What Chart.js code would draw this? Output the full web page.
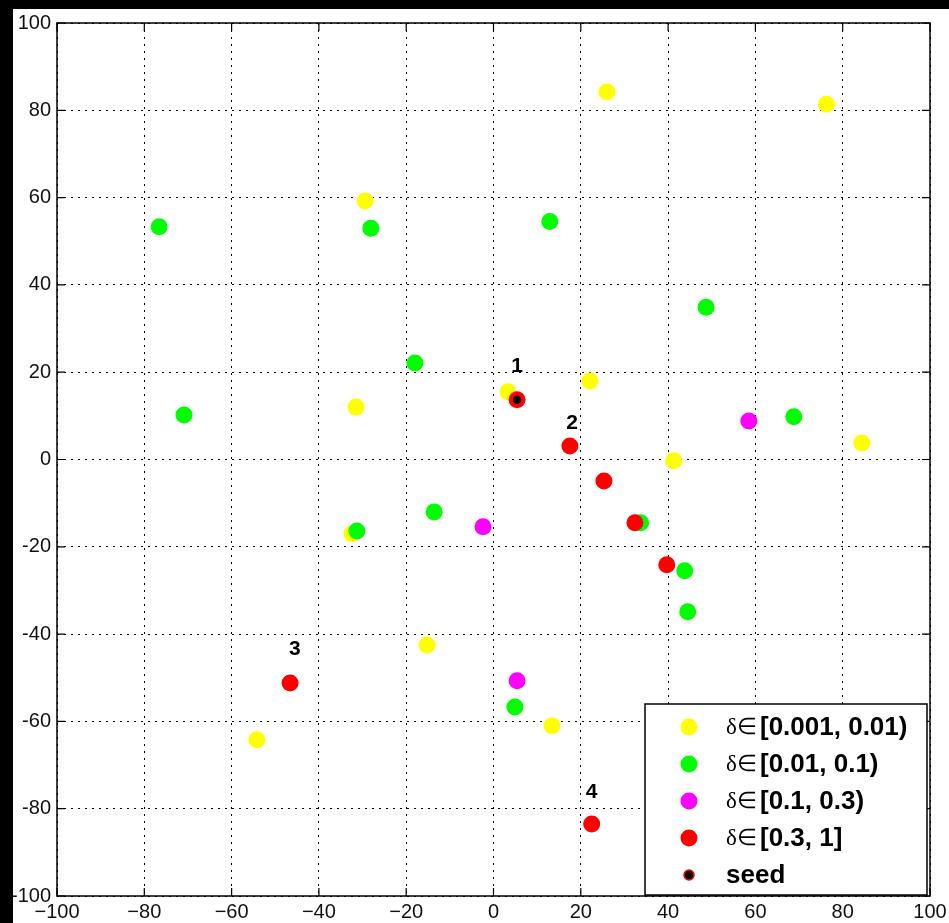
<!DOCTYPE html>
<html>
<head>
<meta charset="utf-8">
<script src="https://cdn.jsdelivr.net/npm/chart.js@4.4.1/dist/chart.umd.min.js"></script>
<style>
  html, body { margin: 0; padding: 0; background: #000; overflow: hidden; }
  #wrap { position: absolute; left: 13px; top: 9px; width: 936px; height: 914px; background: #fff; }
</style>
</head>
<body>
<div id="wrap"><canvas id="scatter" width="936" height="914"></canvas></div>
<script>
// points, grouped by delta range
const yellowPts = [
    {x: 26.0, y: 84.2}, {x: 76.3, y: 81.4}, {x: -29.4, y: 59.2}, {x: 22.1, y: 18.0},
    {x: 3.3, y: 15.5}, {x: -31.5, y: 12.0}, {x: 84.4, y: 3.8}, {x: 41.3, y: -0.3},
    {x: -32.4, y: -17.0}, {x: -15.2, y: -42.5}, {x: -54.2, y: -64.2}, {x: 13.4, y: -61.0}
];
const greenPts = [
    {x: -76.6, y: 53.3}, {x: -28.1, y: 53.0}, {x: 12.9, y: 54.5}, {x: 48.7, y: 34.9},
    {x: -18.0, y: 22.1}, {x: -70.9, y: 10.2}, {x: 68.8, y: 9.8}, {x: -13.6, y: -12.0},
    {x: -31.3, y: -16.4}, {x: 33.7, y: -14.5}, {x: 43.8, y: -25.5}, {x: 44.5, y: -34.9},
    {x: 4.9, y: -56.7}
];
const magentaPts = [
    {x: 58.5, y: 8.8}, {x: -2.4, y: -15.4}, {x: 5.4, y: -50.7}
];
const redPts = [
    {x: 5.4, y: 13.7}, {x: 17.5, y: 3.1}, {x: 25.3, y: -4.9}, {x: 32.4, y: -14.5},
    {x: 39.7, y: -24.1}, {x: -46.6, y: -51.2}, {x: 22.5, y: -83.5}
];
const seedPts = [{x: 5.4, y: 13.7}];

const seriesLabels = ['δ∈ [0.001, 0.01)', 'δ∈ [0.01, 0.1)', 'δ∈ [0.1, 0.3)', 'δ∈ [0.3, 1]', 'seed'];

// numbered markers next to some of the red points
const pointTags = [
    {text: '1', x: 5.4, y: 21.4},
    {text: '2', x: 18.0, y: 8.4},
    {text: '3', x: -45.5, y: -43.4},
    {text: '4', x: 22.5, y: -76.2}
];

const xTickLabels = ['−100', '−80', '−60', '−40', '−20', '0', '20', '40', '60', '80', '100'];
const yTickLabels = ['-100', '-80', '-60', '-40', '-20', '0', '20', '40', '60', '80', '100'];

const sansFont = '"Liberation Sans", Arial, sans-serif';

// keep the plot box where the layout padding puts it
function noLabelPadding(scale) {
    scale.paddingTop = 0;
    scale.paddingBottom = 0;
    scale.paddingLeft = 0;
    scale.paddingRight = 0;
}

// frame, inward ticks, tags and the boxed legend, drawn after the points
const overlay = {
    id: 'overlay',
    afterDraw(chart) {
        const c = chart.ctx;
        const area = chart.chartArea;
        const xs = chart.scales.x, ys = chart.scales.y;
        c.save();

        c.strokeStyle = '#000';
        c.lineWidth = 1.5;
        c.strokeRect(area.left, area.top, area.right - area.left, area.bottom - area.top);

        const tl = 8;
        c.lineWidth = 1.2;
        c.beginPath();
        xs.ticks.forEach(t => {
            const px = xs.getPixelForValue(t.value);
            c.moveTo(px, area.bottom); c.lineTo(px, area.bottom - tl);
            c.moveTo(px, area.top); c.lineTo(px, area.top + tl);
        });
        ys.ticks.forEach(t => {
            const py = ys.getPixelForValue(t.value);
            c.moveTo(area.left, py); c.lineTo(area.left + tl, py);
            c.moveTo(area.right, py); c.lineTo(area.right - tl, py);
        });
        c.stroke();

        c.fillStyle = '#000';
        c.font = 'bold 21px ' + sansFont;
        c.textAlign = 'center';
        c.textBaseline = 'middle';
        pointTags.forEach(tag => {
            c.fillText(tag.text, xs.getPixelForValue(tag.x), ys.getPixelForValue(tag.y));
        });

        // legend box in the lower right corner
        const bw = 282, bh = 191;
        const bx = area.right - 3 - bw, by = area.bottom - 1 - bh;
        c.fillStyle = '#fff';
        c.fillRect(bx, by, bw, bh);
        c.strokeStyle = '#000';
        c.lineWidth = 1.5;
        c.strokeRect(bx, by, bw, bh);

        chart.data.datasets.forEach((ds, i) => {
            const ry = by + 23 + i * 37;
            const mx = bx + 44;
            c.beginPath();
            c.arc(mx, ry, ds.pointRadius, 0, Math.PI * 2);
            c.fillStyle = ds.backgroundColor;
            c.fill();
            if (ds.pointBorderWidth) {
                c.lineWidth = ds.pointBorderWidth;
                c.strokeStyle = ds.borderColor;
                c.stroke();
            }
            c.fillStyle = '#000';
            c.textAlign = 'left';
            c.textBaseline = 'middle';
            const sp = ds.label.indexOf(' ');
            if (sp > 0) {
                c.font = '23px "Liberation Serif", "Times New Roman", serif';
                c.fillText(ds.label.slice(0, sp), bx + 81, ry + 1);
                c.font = 'bold 26px ' + sansFont;
                c.fillText(ds.label.slice(sp + 1), bx + 115, ry + 1);
            } else {
                c.font = 'bold 26px ' + sansFont;
                c.fillText(ds.label, bx + 81, ry + 1);
            }
        });
        c.restore();
    }
};

const ctx = document.getElementById('scatter').getContext('2d');

new Chart(ctx, {
    type: 'scatter',
    data: {
        datasets: [
            { label: seriesLabels[0], data: yellowPts, backgroundColor: '#ffff00', borderColor: '#ffff00', pointRadius: 8.5, pointBorderWidth: 0, order: 5 },
            { label: seriesLabels[1], data: greenPts, backgroundColor: '#00ff00', borderColor: '#00ff00', pointRadius: 8.5, pointBorderWidth: 0, order: 4 },
            { label: seriesLabels[2], data: magentaPts, backgroundColor: '#ff00ff', borderColor: '#ff00ff', pointRadius: 8.5, pointBorderWidth: 0, order: 3 },
            { label: seriesLabels[3], data: redPts, backgroundColor: '#ff0000', borderColor: '#ff0000', pointRadius: 8.5, pointBorderWidth: 0, order: 2 },
            { label: seriesLabels[4], data: seedPts, backgroundColor: '#000000', borderColor: '#ff0000', pointRadius: 5, pointBorderWidth: 1.5, order: 1 }
        ]
    },
    options: {
        responsive: false,
        animation: false,
        devicePixelRatio: 1,
        layout: { padding: { top: 14, right: 19, left: 0, bottom: 0 } },
        scales: {
            x: {
                type: 'linear',
                min: -100,
                max: 100,
                afterFit(scale) { scale.height = 27; noLabelPadding(scale); },
                ticks: {
                    stepSize: 20,
                    padding: 4,
                    color: '#111',
                    font: { family: sansFont, size: 20 },
                    maxRotation: 0,
                    callback: (v, i) => xTickLabels[i]
                },
                grid: { color: '#000', lineWidth: 1, drawTicks: false },
                border: { display: false, dash: [2, 5] }
            },
            y: {
                type: 'linear',
                min: -100,
                max: 100,
                afterFit(scale) { scale.width = 44; noLabelPadding(scale); },
                ticks: {
                    stepSize: 20,
                    padding: 6,
                    color: '#111',
                    font: { family: sansFont, size: 20 },
                    callback: (v, i) => yTickLabels[i]
                },
                grid: { color: '#000', lineWidth: 1, drawTicks: false },
                border: { display: false, dash: [2, 5] }
            }
        },
        plugins: {
            legend: { display: false },
            tooltip: { enabled: false }
        }
    },
    plugins: [overlay]
});
</script>
</body>
</html>
